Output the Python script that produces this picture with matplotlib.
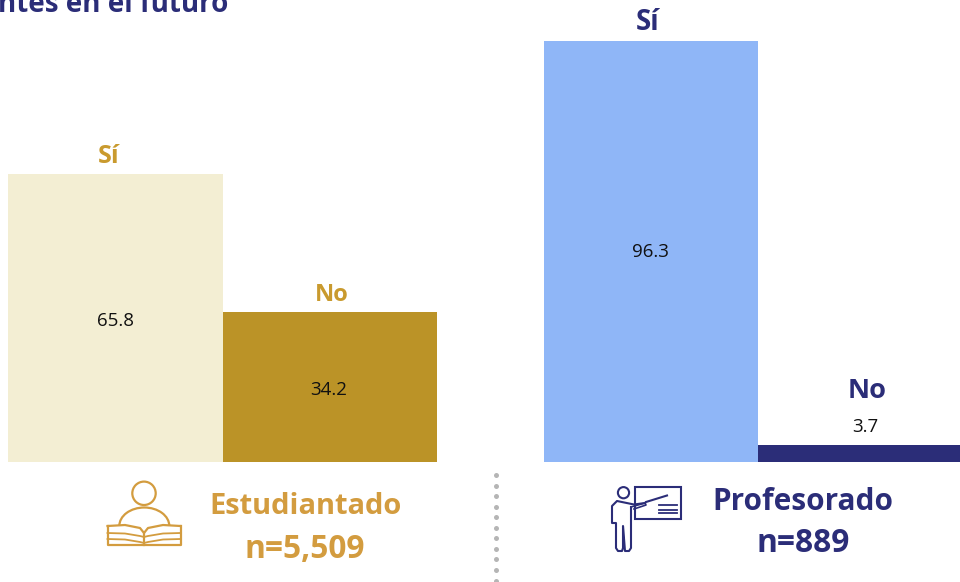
import numpy as np
import matplotlib
matplotlib.use("Agg")
import matplotlib.pyplot as plt
from matplotlib.patches import Circle, Rectangle, Arc

plt.rcParams['font.family'] = ['Open Sans', 'DejaVu Sans']

categories = ["Sí", "No"]
estudiantado = [65.8, 34.2]
profesorado = [96.3, 3.7]
GOLD_LIGHT, GOLD, GOLD_TEXT = "#F3EED3", "#BB9327", "#D39C3F"
BLUE_LIGHT, NAVY = "#8FB6F7", "#2B2D78"
LABEL_GOLD = "#C99A2E"

W, H = 960, 582
fig = plt.figure(figsize=(W / 100, H / 100), dpi=100, facecolor="white")
PT = 72 / 100  # points per pixel

def make_ax(left, right):
    bottom, top = 461.5, 24.5
    ax = fig.add_axes([left / W, 1 - bottom / H, (right - left) / W, (bottom - top) / H])
    ax.set_xlim(-0.5, 1.5)
    ax.set_ylim(0, 100)
    ax.axis("off")
    return ax

def off(ax, text, xy, dx, dy, **kw):
    """Place text at data point xy, shifted by pixels (dy positive = up)."""
    ax.annotate(text, xy, xytext=(dx * PT, dy * PT), textcoords="offset points",
                ha="center", va="center", **kw)

ax1 = make_ax(8, 437)
ax1.bar([0, 1], estudiantado, width=1.0, color=[GOLD_LIGHT, GOLD], linewidth=0)
off(ax1, f"{estudiantado[0]:.1f}", (0, estudiantado[0] / 2), 0, -3, fontsize=13.5, color="#111111")
off(ax1, f"{estudiantado[1]:.1f}", (1, estudiantado[1] / 2), -1, -3, fontsize=13.5, color="#111111")
off(ax1, categories[0], (0, estudiantado[0]), -7, 17, fontsize=18, fontweight="bold", color=LABEL_GOLD)
off(ax1, categories[1], (1, estudiantado[1]), 2, 17, fontsize=17, fontweight="bold", color=LABEL_GOLD)

ax2 = make_ax(544, 972)
ax2.bar([0, 1], profesorado, width=1.0, color=[BLUE_LIGHT, NAVY], linewidth=0)
off(ax2, f"{profesorado[0]:.1f}", (0, profesorado[0] / 2), -1, -1, fontsize=13.5, color="#111111")
off(ax2, f"{profesorado[1]:.1f}", (1, profesorado[1]), 0, 18, fontsize=13.5, color="#111111")
off(ax2, categories[0], (0, profesorado[0]), -3, 18, fontsize=20, fontweight="bold", color=NAVY)
off(ax2, categories[1], (1, profesorado[1]), 2, 54, fontsize=19.5, fontweight="bold", color=NAVY)

# overlay in pixel coordinates: title fragment, captions, icons, divider
ov = fig.add_axes([0, 0, 1, 1])
ov.set_xlim(0, W)
ov.set_ylim(H, 0)
ov.axis("off")
ov.patch.set_alpha(0)

ov.text(228, 12, "ntes en el futuro", ha="right", va="baseline", fontsize=20,
        fontweight="bold", color=NAVY, clip_on=False)
ov.text(306, 507, "Estudiantado", ha="center", va="center", fontsize=20.9, fontweight="bold", color=GOLD_TEXT)
ov.text(305, 549, "n=5,509", ha="center", va="center", fontsize=22.8, fontweight="bold", color=GOLD_TEXT)
ov.text(803, 502, "Profesorado", ha="center", va="center", fontsize=21.4, fontweight="bold", color=NAVY)
ov.text(803, 544, "n=889", ha="center", va="center", fontsize=22.8, fontweight="bold", color=NAVY)

# divider
ov.plot(np.full(11, 496), 475 + 10.55 * np.arange(11), ls="none", marker="o", ms=3.6,
        color="#B5B5B5", mew=0, clip_on=False)

# student icon
lw = 1.6
c = GOLD_TEXT
ov.add_patch(Circle((144, 493.3), 11.7, fill=False, ec=c, lw=lw))
ov.add_patch(Arc((144.3, 526), 50, 37, theta1=180, theta2=360, ec=c, lw=lw))
xs = np.array([107.5, 125, 140, 144, 148, 163, 180.5])
ov.plot(xs, [526, 525, 528, 533, 528, 525, 526], color=c, lw=lw)
for yo in (7, 13):
    ov.plot(xs, np.array([526, 526.5, 529, 530, 529, 526.5, 526]) + yo, color=c, lw=1.3)
ov.plot([107.5, 107.5, 144, 180.5, 180.5], [526, 545, 545, 545, 526], color=c, lw=lw)
ov.plot([144, 144], [533, 545], color=c, lw=lw)

# teacher icon
lw = 1.5
c = NAVY
ov.add_patch(Rectangle((634.5, 487), 46.5, 32, fill=False, ec=c, lw=lw))
ov.add_patch(Circle((623.5, 492.7), 5.6, fill=False, ec=c, lw=lw))
ov.plot([646, 667], [502, 495.5], color=c, lw=1.5)
for y in (504.5, 509.5, 513):
    ov.plot([659, 677], [y, y], color=c, lw=1.3)
ov.plot([645, 634, 617, 612, 612, 616, 616, 618, 622, 623, 623, 625, 629, 631, 631, 631],
        [503, 504.5, 501, 506, 523, 523, 548, 551, 551, 548, 526, 551, 551, 548, 510, 507],
        color=c, lw=lw, solid_joinstyle="round")
ov.plot([631, 645, 646, 634], [507, 503, 505, 509], color=c, lw=1.2)

fig.savefig("out.png", dpi=100)
